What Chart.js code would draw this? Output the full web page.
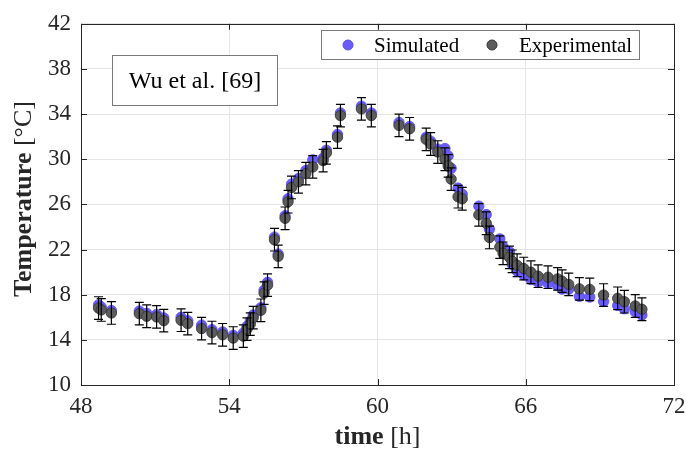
<!DOCTYPE html>
<html>
<head>
<meta charset="utf-8">
<script src="https://cdn.jsdelivr.net/npm/chart.js@4.4.0/dist/chart.umd.min.js"></script>
<style>
  html, body { margin: 0; padding: 0; background: #fff; }
  #wrap { width: 686px; height: 450px; }
</style>
</head>
<body>
<div id="wrap"><canvas id="tempChart"></canvas></div>
<script>
// time axis [h]
const timeH = [48.71, 48.82, 49.23, 50.36, 50.66, 51.06, 51.35, 52.05, 52.32, 52.88,
    53.30, 53.73, 54.16, 54.57, 54.72, 54.85, 54.97, 55.28, 55.41, 55.55,
    55.83, 55.98, 56.26, 56.38, 56.52, 56.80, 57.10, 57.38, 57.80, 57.93,
    58.38, 58.50, 59.35, 59.75, 60.87, 61.30, 61.97, 62.15, 62.44, 62.73,
    62.86, 62.98, 63.26, 63.43, 64.10, 64.40, 64.53, 64.95, 65.08, 65.34,
    65.45, 65.65, 65.92, 66.21, 66.50, 66.90, 67.29, 67.47, 67.74, 68.17,
    68.59, 69.15, 69.72, 69.99, 70.43, 70.70];

// simulated temperature [°C]
const simulated = [17.1, 16.9, 16.6, 16.55, 16.35, 16.25, 15.95, 16.0, 15.7, 15.3,
    14.9, 14.7, 14.4, 14.6, 15.2, 15.65, 16.2, 16.85, 18.4, 19.1,
    23.1, 21.6, 25.0, 26.5, 27.8, 28.3, 29.0, 29.95, 30.1, 30.8,
    32.2, 34.1, 34.7, 34.1, 33.25, 32.9, 31.95, 31.6, 30.9, 30.95,
    30.3, 29.2, 27.45, 26.9, 25.85, 25.1, 23.8, 22.95, 22.25, 21.8,
    20.7, 20.1, 19.75, 19.35, 19.1, 19.0, 18.8, 18.5, 18.5, 17.85,
    17.8, 17.4, 17.05, 16.75, 16.5, 16.2];

// experimental temperature [°C]
const experimental = [16.82, 16.65, 16.38, 16.32, 16.09, 16.03, 15.7, 15.74, 15.44, 15.0,
    14.65, 14.45, 14.16, 14.33, 14.95, 15.39, 15.97, 16.62, 18.14, 18.85,
    22.87, 21.4, 24.77, 26.24, 27.5, 28.0, 28.73, 29.32, 29.88, 30.56,
    31.96, 33.87, 34.46, 33.87, 33.0, 32.7, 31.76, 31.35, 30.64, 30.0,
    29.41, 28.24, 26.68, 26.5, 25.07, 24.33, 23.07, 22.22, 21.67, 21.31,
    20.96, 20.61, 20.32, 19.99, 19.64, 19.55, 19.4, 19.2, 18.91, 18.52,
    18.47, 17.97, 17.68, 17.38, 17.0, 16.71];

// experimental error (+/-) [°C]
const expError = [1.0, 1.0, 1.0, 1.0, 1.0, 1.0, 1.0, 1.0, 1.0, 1.0,
    1.0, 1.0, 1.0, 1.0, 1.0, 1.0, 1.0, 1.0, 1.0, 1.0,
    1.0, 1.0, 1.0, 1.0, 1.0, 1.0, 1.0, 1.0, 1.0, 1.0,
    1.0, 1.0, 1.0, 1.0, 1.0, 1.0, 1.0, 1.0, 1.0, 1.0,
    1.0, 1.0, 1.0, 1.0, 1.0, 1.0, 1.0, 1.0, 1.0, 1.0,
    1.0, 1.0, 1.0, 1.0, 1.0, 1.0, 1.0, 1.0, 1.0, 1.0,
    1.0, 1.0, 1.0, 1.0, 1.0, 1.0];

const xTicks = [48, 54, 60, 66, 72];
const yTicks = [10, 14, 18, 22, 26, 30, 34, 38, 42];

const seriesNames = ['Simulated', 'Experimental'];
const noteText = 'Wu et al. [69]';

const SERIF = "'Liberation Serif', 'DejaVu Serif', serif";
const BLUE = '#6a5cff';
const GRAY = '#5c5c5c';

// error bars, frame, inward ticks, legend, note box and axis titles
const decorations = {
    id: 'decorations',
    afterDatasetsDraw(chart) {
        const { ctx, scales: { x, y } } = chart;
        ctx.save();
        ctx.strokeStyle = '#000';
        ctx.lineWidth = 1.2;
        timeH.forEach((t, i) => {
            const px = x.getPixelForValue(t);
            const top = y.getPixelForValue(experimental[i] + expError[i]);
            const bot = y.getPixelForValue(experimental[i] - expError[i]);
            ctx.beginPath();
            ctx.moveTo(px, top); ctx.lineTo(px, bot);
            ctx.moveTo(px - 4.5, top); ctx.lineTo(px + 4.5, top);
            ctx.moveTo(px - 4.5, bot); ctx.lineTo(px + 4.5, bot);
            ctx.stroke();
        });
        ctx.restore();
    },
    afterDraw(chart) {
        const { ctx, chartArea: a, scales: { x, y } } = chart;
        ctx.save();

        // axes box + inward ticks
        ctx.strokeStyle = '#262626';
        ctx.lineWidth = 1;
        ctx.strokeRect(Math.round(a.left) + 0.5, Math.round(a.top) + 0.5,
            Math.round(a.right - a.left), Math.round(a.bottom - a.top));
        ctx.beginPath();
        xTicks.forEach(v => {
            const px = Math.round(x.getPixelForValue(v)) + 0.5;
            ctx.moveTo(px, a.bottom); ctx.lineTo(px, a.bottom - 6);
            ctx.moveTo(px, a.top); ctx.lineTo(px, a.top + 6);
        });
        yTicks.forEach(v => {
            const py = Math.round(y.getPixelForValue(v)) + 0.5;
            ctx.moveTo(a.left, py); ctx.lineTo(a.left + 6, py);
            ctx.moveTo(a.right, py); ctx.lineTo(a.right - 6, py);
        });
        ctx.stroke();

        // legend
        ctx.fillStyle = '#fff';
        ctx.fillRect(321, 30, 318, 29);
        ctx.strokeStyle = '#7a7a7a';
        ctx.strokeRect(321.5, 30.5, 318, 29);
        const legendItems = [
            { x: 348, tx: 374, color: BLUE, edge: '#5a4cf0' },
            { x: 492, tx: 519, color: GRAY, edge: '#333' }
        ];
        ctx.font = '21px ' + SERIF;
        ctx.textBaseline = 'middle';
        ctx.textAlign = 'left';
        legendItems.forEach((it, i) => {
            ctx.beginPath();
            ctx.arc(it.x, 45, 5, 0, Math.PI * 2);
            ctx.fillStyle = it.color;
            ctx.fill();
            ctx.strokeStyle = it.edge;
            ctx.stroke();
            ctx.fillStyle = '#000';
            ctx.fillText(seriesNames[i], it.tx, 46);
        });

        // note box
        ctx.fillStyle = '#fff';
        ctx.fillRect(112, 55, 165, 50);
        ctx.strokeStyle = '#7a7a7a';
        ctx.strokeRect(112.5, 55.5, 165, 50);
        ctx.fillStyle = '#000';
        ctx.font = '24px ' + SERIF;
        ctx.textAlign = 'center';
        ctx.fillText(noteText, 195, 82);

        // axis titles: bold name + regular unit
        const drawTitle = (bold, rest, cx, cy, rot) => {
            ctx.save();
            ctx.translate(cx, cy);
            ctx.rotate(rot);
            ctx.textAlign = 'left';
            ctx.textBaseline = 'middle';
            ctx.fillStyle = '#262626';
            ctx.font = 'bold 26px ' + SERIF;
            const w1 = ctx.measureText(bold).width;
            ctx.font = '26px ' + SERIF;
            const w2 = ctx.measureText(rest).width;
            const start = -(w1 + w2) / 2;
            ctx.font = 'bold 26px ' + SERIF;
            ctx.fillText(bold, start, 0);
            ctx.font = '26px ' + SERIF;
            ctx.fillText(rest, start + w1, 0);
            ctx.restore();
        };
        drawTitle('time', ' [h]', (a.left + a.right) / 2, 437, 0);
        drawTitle('Temperature', ' [°C]', 24, 199, -Math.PI / 2);

        ctx.restore();
    }
};

const ctx = document.getElementById('tempChart').getContext('2d');
new Chart(ctx, {
    type: 'scatter',
    data: {
        datasets: [{
            label: seriesNames[0],
            data: timeH.map((t, i) => ({ x: t, y: simulated[i] })),
            backgroundColor: BLUE,
            borderColor: '#5a4cf0',
            borderWidth: 0.8,
            pointRadius: 5.2,
            order: 2
        }, {
            label: seriesNames[1],
            data: timeH.map((t, i) => ({ x: t, y: experimental[i] })),
            backgroundColor: GRAY,
            borderColor: '#333',
            borderWidth: 0.8,
            pointRadius: 5.2,
            order: 1
        }]
    },
    options: {
        responsive: true,
        maintainAspectRatio: false,
        animation: false,
        layout: { padding: { top: 21, right: 12, left: 0, bottom: 0 } },
        plugins: {
            legend: { display: false },
            tooltip: { enabled: false }
        },
        scales: {
            x: {
                type: 'linear',
                min: 48,
                max: 72,
                afterBuildTicks: s => { s.ticks = xTicks.map(v => ({ value: v })); },
                afterFit: s => { s.height = 65; s.paddingRight = 0; },
                grid: { color: '#e6e6e6', drawTicks: false },
                border: { display: false },
                ticks: {
                    padding: 8,
                    maxRotation: 0,
                    color: '#262626',
                    font: { family: SERIF, size: 23 }
                }
            },
            y: {
                type: 'linear',
                min: 10,
                max: 42,
                afterBuildTicks: s => { s.ticks = yTicks.map(v => ({ value: v })); },
                afterFit: s => { s.width = 81; },
                grid: { color: '#e6e6e6', drawTicks: false },
                border: { display: false },
                ticks: {
                    padding: 10,
                    color: '#262626',
                    font: { family: SERIF, size: 23 }
                }
            }
        }
    },
    plugins: [decorations]
});
</script>
</body>
</html>
